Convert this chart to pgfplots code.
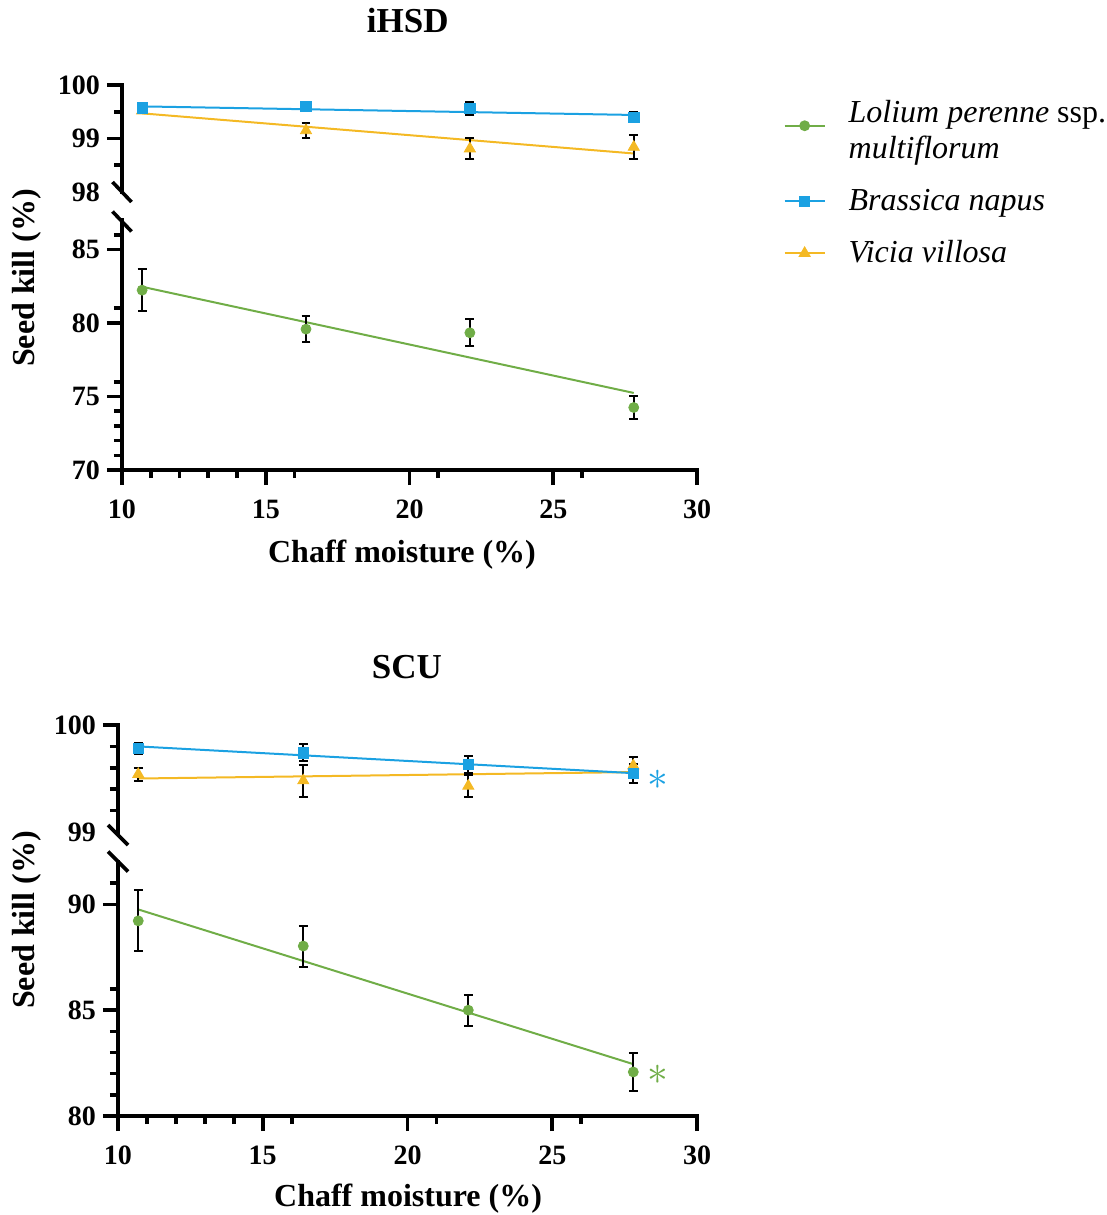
\documentclass[border=0pt]{standalone}
\usepackage{fontspec}
\setmainfont{Liberation Serif}
\usepackage{pgfplots}
\pgfplotsset{compat=1.18}
\definecolor{cgreen}{RGB}{112,173,71}
\definecolor{cblue}{RGB}{27,161,226}
\definecolor{cyellow}{RGB}{244,185,36}

\pgfplotsset{
  prism/.style={
    scale only axis,
    clip=false,
    xmin=10, xmax=30,
    axis line style={line width=1.8pt, line cap=rect},
    every tick/.style={black, line width=1.8pt},
    tick align=outside,
    major tick length=7.5pt,
    minor tick length=4pt,
    /pgf/number format/assume math mode=true,
    ticklabel style={font=\fontsize{14}{14}\selectfont\bfseries},
    xticklabel style={yshift=-4pt},
    label style={font=\fontsize{16}{19}\selectfont\bfseries},
    title style={font=\fontsize{17.5}{20}\selectfont\bfseries},
  },
  upper/.style={prism, axis y line*=left, axis x line=none},
  lower/.style={prism, axis y line*=left, axis x line*=bottom,
    xtick={10,15,...,30}, minor xtick={11,...,14,16,...,19,21,...,24,26,...,29}},
  dat/.style={only marks, forget plot,
    error bars/y dir=both, error bars/y explicit,
    error bars/error bar style={black, line width=1pt},
    error bars/error mark options={black, rotate=90, mark size=2.2pt, line width=1pt}},
  fit/.style={no marks, line width=1pt, forget plot},
  leg/.style={legend style={anchor=north west,
    draw=none, fill=none, inner sep=0pt, row sep=9.5pt, column sep=9.5pt,
    font=\fontsize{16}{18}\selectfont},
    legend cell align=left,
    legend image code/.code={\draw[mark repeat=2,mark phase=2] plot coordinates {(0pt,0pt) (10pt,0pt) (20pt,0pt)};}},
}

\begin{document}
\begin{tikzpicture}
\useasboundingbox (0,0) rectangle (553.5pt,-607.5pt);

% ===== iHSD upper =====
\begin{axis}[upper, leg, at={(61pt,-96pt)}, anchor=south west,
  width=287.5pt, height=53.5pt, ymin=98, ymax=100,
  ytick={99,100}, minor ytick={98.5,99.5},
  extra y ticks={98}, extra y tick style={major tick style={draw=none}},
  title={iHSD}, title style={at={(axis description cs:0.497,1.486)}, anchor=center},
  legend style={at={(axis description cs:1.15,0.925)}},
]
\addplot[fit, cyellow] coordinates {(10.7,99.47) (27.8,98.72)};
\addplot[fit, cblue] coordinates {(10.7,99.60) (27.8,99.44)};
\addplot[dat, cyellow, mark=triangle*, mark size=3.2pt] table[x=x, y=y, y error=e] {
x y e
10.7 99.52 0.05
16.4 99.15 0.14
22.1 98.81 0.20
27.8 98.84 0.23
};
\addplot[dat, cblue, mark=square*, mark size=2.6pt] table[x=x, y=y, y error=e] {
x y e
10.7 99.57 0.05
16.4 99.60 0.06
22.1 99.56 0.13
27.8 99.40 0.10
};
\addlegendimage{cgreen, line width=1pt, mark=*, mark size=2.2pt}
\addlegendentry{\raisebox{4.5pt}{\begin{tabular}[c]{@{}l@{}}\textit{Lolium perenne} ssp.\\\textit{multiflorum}\end{tabular}}}
\draw[line width=1.8pt] ([shift={(-4.75pt,5pt)}]rel axis cs:0,0) -- ([shift={(4.75pt,-5pt)}]rel axis cs:0,0);
\end{axis}

% ===== iHSD lower =====
\begin{axis}[lower, leg, at={(61pt,-235pt)}, anchor=south west,
  width=287.5pt, height=125pt, ymin=70, ymax=87,
  ytick={70,75,80,85}, minor ytick={71,...,74,76,...,79,81,...,84,86},
  xlabel={Chaff moisture (\%)}, xlabel style={at={(axis description cs:0.487,-0.338)}, anchor=center},
  ylabel={Seed kill (\%)}, ylabel style={at={(axis description cs:-0.165,0.768)}, anchor=center},
  legend style={at={(axis description cs:1.15,1.14)}},
]
\addplot[fit, cgreen] coordinates {(10.7,82.46) (27.8,75.24)};
\addplot[dat, cgreen, mark=*, mark size=2.5pt] table[x=x, y=y, y error=e] {
x y e
10.7 82.23 1.41
16.4 79.58 0.90
22.1 79.33 0.92
27.8 74.25 0.80
};
\addlegendimage{cblue, line width=1pt, mark=square*, mark size=2.2pt}
\addlegendentry{\textit{Brassica napus}}
\addlegendimage{cyellow, line width=1pt, mark=triangle*, mark size=2.6pt}
\addlegendentry{\textit{Vicia villosa}}
\draw[line width=1.8pt] ([shift={(-4.75pt,4.25pt)}]rel axis cs:0,1) -- ([shift={(4.75pt,-5.75pt)}]rel axis cs:0,1);
\end{axis}

% ===== SCU upper =====
\begin{axis}[upper, at={(59pt,-416pt)}, anchor=south west,
  width=289.5pt, height=53.5pt, ymin=99, ymax=100,
  ytick={100}, minor ytick={99.2,99.4,99.6,99.8},
  extra y ticks={99}, extra y tick style={major tick style={draw=none}},
  title={SCU}, title style={at={(axis description cs:0.499,1.43)}, anchor=center},
]
\addplot[fit, cyellow] coordinates {(10.7,99.50) (27.8,99.56)};
\addplot[fit, cblue] coordinates {(10.7,99.80) (27.8,99.55)};
\addplot[dat, cyellow, mark=triangle*, mark size=3.2pt] table[x=x, y=y, y error=e] {
x y e
10.7 99.54 0.06
16.4 99.48 0.15
22.1 99.43 0.10
27.8 99.62 0.08
};
\addplot[dat, cblue, mark=square*, mark size=2.6pt] table[x=x, y=y, y error=e] {
x y e
10.7 99.78 0.05
16.4 99.74 0.08
22.1 99.63 0.08
27.8 99.55 0.09
};
\node[text=cblue, font=\fontsize{20}{20}\selectfont] at (axis cs:28.65,99.486) {$\ast$};
\draw[line width=1.8pt] ([shift={(-5pt,3.5pt)}]rel axis cs:0,0) -- ([shift={(5pt,-6.5pt)}]rel axis cs:0,0);
\end{axis}

% ===== SCU lower =====
\begin{axis}[lower, at={(59pt,-558pt)}, anchor=south west,
  width=289.5pt, height=127pt, ymin=80, ymax=92,
  ytick={80,85,90}, minor ytick={81,...,84,86,...,89,91},
  xlabel={Chaff moisture (\%)}, xlabel style={at={(axis description cs:0.501,-0.327)}, anchor=center},
  ylabel={Seed kill (\%)}, ylabel style={at={(axis description cs:-0.157,0.772)}, anchor=center},
]
\addplot[fit, cgreen] coordinates {(10.7,89.76) (27.8,82.45)};
\addplot[dat, cgreen, mark=*, mark size=2.5pt] table[x=x, y=y, y error=e] {
x y e
10.7 89.22 1.44
16.4 88.03 0.97
22.1 85.00 0.73
27.8 82.08 0.92
};
\node[text=cgreen, font=\fontsize{20}{20}\selectfont] at (axis cs:28.65,81.94) {$\ast$};
\draw[line width=1.8pt] ([shift={(-5pt,5.25pt)}]rel axis cs:0,1) -- ([shift={(5pt,-4.75pt)}]rel axis cs:0,1);
\end{axis}
\end{tikzpicture}
\end{document}
